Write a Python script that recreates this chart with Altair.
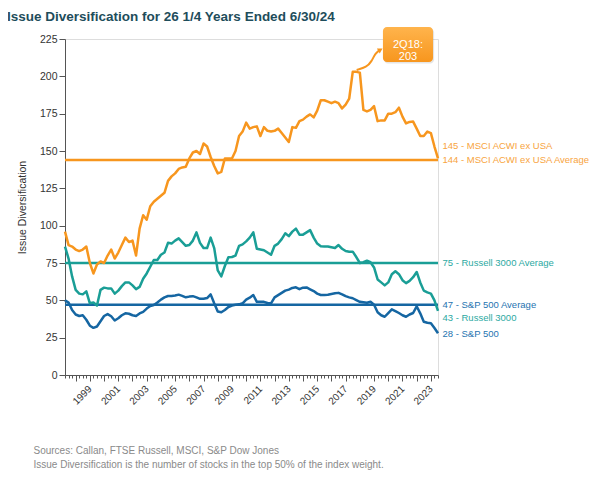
import altair as alt
import pandas as pd

# ---------------- data (quarterly, index 0 = 1Q98 ... 105 = 2Q24) ----------------
quarters = list(range(106))

msci_acwi_ex_usa = [
    96, 87, 86, 84, 83, 84, 86, 75, 68, 74,
    76, 75, 80, 84, 78, 82, 87, 92, 89, 90,
    80, 98, 107, 104, 113, 116, 118, 120, 122, 130,
    133, 135, 138, 139, 139.5, 145, 149, 150, 148, 155,
    153, 146, 140, 135, 136, 145, 145, 145, 150, 160,
    163, 169, 165, 166, 166.5, 160, 166, 163.5, 163, 163.5,
    165, 162, 159, 156, 166, 165.5, 170, 171, 173, 174.5,
    172.5, 177, 184, 184, 183, 182, 183, 182, 178.5, 181,
    185, 203, 203, 202.5, 177.5, 176.5, 177.5, 180, 170, 170.5,
    170.5, 175, 175, 176, 179, 173, 168.5, 169.5, 169.7, 165,
    160, 160, 163, 162, 153, 145,
]

russell_3000 = [
    86, 78, 66, 57, 54.5, 54, 56, 48, 48.5, 46.5,
    57, 58.5, 58, 58, 54.5, 56.5, 59.5, 62, 62, 60,
    57.5, 59, 64.5, 68, 72.5, 77, 77, 80.5, 82, 88.5,
    88, 90, 91.5, 89, 86.5, 87, 90, 95.5, 88.5, 85,
    85, 92, 85, 70, 66, 73, 78.8, 79, 80, 86.5,
    87.5, 89.5, 92, 95.5, 84.5, 84, 83.5, 82, 80.5, 86.5,
    88, 91, 94.9, 93, 96, 98, 94, 94, 95.5, 97,
    92, 88, 86.2, 86, 86, 85.5, 85, 87, 84.5, 83,
    82.6, 82.6, 79, 75, 75.5, 76.5, 75.5, 72, 64, 62,
    60, 62, 67.5, 69.5, 67.5, 63.5, 61.5, 63, 65.5, 69,
    62, 56.5, 55.3, 54.5, 50, 43,
]

sp_500 = [
    50, 48.5, 43.5, 40.5, 39.5, 40, 37, 33, 31.6, 32.5,
    36, 39.5, 40.8, 39.3, 36.5, 38, 40, 41.3, 41, 40,
    39.5, 41.2, 42.3, 44.5, 46.2, 46.9, 48.5, 50.5, 52, 52.9,
    52.9, 53.2, 53.8, 53, 52, 52.5, 52.8, 52, 51, 51,
    51.5, 54, 48, 42.5, 42, 43.5, 45.5, 46.5, 47, 47.3,
    48, 50.5, 51.8, 53.6, 49, 49, 49, 48.2, 48, 52,
    53.5, 55, 56.5, 57.2, 58.3, 58.7, 57.5, 58.5, 58.6, 57.4,
    56.2, 54.5, 53.6, 53.6, 53.8, 54.3, 54.7, 55, 54, 52.8,
    52, 51.4, 50.2, 49, 48.7, 48.4, 49, 47, 42, 40,
    39, 41.5, 44, 42.8, 41.5, 40, 39, 40.5, 41.5, 46,
    41.3, 35.7, 35, 34.7, 31.5, 28,
]

series_names = ["MSCI ACWI ex USA", "Russell 3000", "S&P 500"]
series_values = [msci_acwi_ex_usa, russell_3000, sp_500]
series_averages = [144, 75, 47]
series_colors = ["#F7961E", "#1A9E96", "#1566A2"]
label_colors = ["#F8A440", "#2CA9A2", "#2673B0"]

y_ticks = [0, 25, 50, 75, 100, 125, 150, 175, 200, 225]
year_labels_first = 1999      # first labelled year
peak_label = "2Q18:"
peak_value = 203

# ---------------- frames ----------------
rows = []
for name, vals in zip(series_names, series_values):
    for q, v in zip(quarters, vals):
        rows.append({"q": q, "value": v, "series": name})
lines_df = pd.DataFrame(rows)

avg_df = pd.DataFrame({"series": series_names, "value": series_averages})

color_scale = alt.Scale(domain=series_names, range=series_colors)

x_scale = alt.Scale(domain=[quarters[0], quarters[-1]], nice=False, zero=False)
y_scale = alt.Scale(domain=[y_ticks[0], y_ticks[-1]], nice=False)

FONT = "Liberation Sans"

x_axis = alt.Axis(
    values=quarters,
    labelExpr=f"datum.value % 8 == 7 ? '' + ({year_labels_first} + (datum.value - 7) / 4) : ''",
    labelAngle=-45,
    labelAlign="right",
    labelBaseline="middle",
    labelPadding=6,
    labelOverlap=False,
    labelFlush=False,
    labelFontSize=10,
    labelColor="#333333",
    labelFont=FONT,
    tickSize={"condition": {"test": "datum.value % 4 == 3", "value": 6}, "value": 3},
    tickColor="#555555",
    domainColor="#555555",
    grid=False,
    title=["Sources: Callan, FTSE Russell, MSCI, S&P Dow Jones",
           "Issue Diversification is the number of stocks in the top 50% of the index weight."],
    titleX=-32,
    titleY=78,
    titleAlign="left",
    titleBaseline="alphabetic",
    titleLineHeight=14,
    titleFont=FONT,
    titleFontSize=10,
    titleFontWeight="normal",
    titleColor="#8A8A8A",
)

y_axis = alt.Axis(
    values=y_ticks,
    tickSize=6,
    labelPadding=2,
    labelOverlap=False,
    labelFontSize=10.5,
    labelColor="#333333",
    labelFont=FONT,
    tickColor="#555555",
    domainColor="#555555",
    grid=False,
    title="Issue Diversification",
    titleFont=FONT,
    titleFontSize=10.5,
    titleFontWeight="normal",
    titleColor="#333333",
    titlePadding=12,
)


def X(field="q"):
    return alt.X(f"{field}:Q", scale=x_scale, axis=x_axis)


def Y(field="value"):
    return alt.Y(f"{field}:Q", scale=y_scale, axis=y_axis)


lines = alt.Chart(lines_df).mark_line(strokeWidth=2.5, strokeJoin="round").encode(
    x=X(), y=Y(),
    color=alt.Color("series:N", scale=color_scale, legend=None),
    detail="series:N",
)

avg_rules = alt.Chart(avg_df).mark_rule(strokeWidth=2.5).encode(
    y=Y(),
    color=alt.Color("series:N", scale=color_scale, legend=None),
)

# ---------------- right-hand labels ----------------
last_q = quarters[-1]
label_specs = []
for name, vals, avg, lc in zip(series_names, series_values, series_averages, label_colors):
    label_specs.append((f"{round(vals[-1])} - {name}", vals[-1], lc, "last", name))
    label_specs.append((f"{avg} - {name} Average", avg, lc, "avg", name))

label_dy = {
    ("MSCI ACWI ex USA", "last"): -12,
    ("MSCI ACWI ex USA", "avg"): 0,
    ("Russell 3000", "avg"): 0,
    ("Russell 3000", "last"): 7.5,
    ("S&P 500", "avg"): 0,
    ("S&P 500", "last"): 0.5,
}

label_layers = []
for text, val, lc, kind, name in label_specs:
    df = pd.DataFrame({"q": [last_q], "value": [val], "label": [text]})
    label_layers.append(
        alt.Chart(df).mark_text(
            align="left", baseline="middle", dx=4.5, dy=label_dy[(name, kind)],
            fontSize=9.5, font=FONT, color=lc,
        ).encode(x=X(), y=Y(), text="label:N")
    )

# ---------------- peak callout ----------------
peak_q = msci_acwi_ex_usa.index(max(msci_acwi_ex_usa))
box_df = pd.DataFrame({"q": [peak_q + 8.5], "q2": [peak_q + 22.6],
                       "value": [peak_value + 6.6], "value2": [peak_value + 30]})
shadow_df = pd.DataFrame({"q": [peak_q + 8.8], "q2": [peak_q + 22.9],
                          "value": [peak_value + 5.6], "value2": [peak_value + 29]})

shadow = alt.Chart(shadow_df).mark_rect(cornerRadius=4, color="#999999", opacity=0.25).encode(
    x=X(), x2="q2:Q", y=Y(), y2="value2:Q",
)

box = alt.Chart(box_df).mark_rect(
    cornerRadius=4,
    color=alt.LinearGradient(
        gradient="linear",
        stops=[alt.GradientStop(offset=0, color="#FFB44C"),
               alt.GradientStop(offset=1, color="#F7961E")],
        x1=0, x2=0, y1=0, y2=1,
    ),
).encode(x=X(), x2="q2:Q", y=Y(), y2="value2:Q")

box_text_df = pd.DataFrame({"q": [peak_q + 15.55], "value": [peak_value + 18.3],
                            "label": [f"{peak_label}\n{peak_value}"]})
box_text = alt.Chart(box_text_df).mark_text(
    align="center", baseline="middle", lineBreak="\n", lineHeight=12,
    fontSize=11, font=FONT, color="white",
).encode(x=X(), y=Y(), text="label:N")

arrow_df = pd.DataFrame({
    "q": [peak_q + 1.1, peak_q + 3.9, peak_q + 5.3, peak_q + 6.3, peak_q + 7.4],
    "value": [peak_value + 1.3, peak_value + 3.1, peak_value + 6.9, peak_value + 12.3, peak_value + 14.2],
})
arrow = alt.Chart(arrow_df).mark_line(
    interpolate="basis", color="#F7961E", strokeWidth=2, clip=False,
).encode(x=X(), y=Y())

arrow_head_df = pd.DataFrame({"q": [peak_q + 7.6], "value": [peak_value + 14.5]})
arrow_head = alt.Chart(arrow_head_df).mark_point(
    shape="triangle", filled=True, size=32, angle=60, color="#F7961E", opacity=1,
).encode(x=X(), y=Y())

chart = alt.layer(
    avg_rules, lines, *label_layers, arrow, arrow_head, shadow, box, box_text,
).properties(
    width=373,
    height=336,
    autosize=alt.AutoSizeParams(type="none"),
    padding={"left": 57, "top": 31, "right": 153, "bottom": 95},
    title=alt.TitleParams(
        "Issue Diversification for 26 1/4 Years Ended 6/30/24",
        anchor="start", frame="group", dx=-58, offset=4,
        fontSize=13.5, fontWeight="bold", font=FONT, color="#1E4D5B",
    ),
).configure_view(stroke=None).configure(font=FONT)

chart.save("out.html", embed_options={"renderer": "svg", "actions": False})
